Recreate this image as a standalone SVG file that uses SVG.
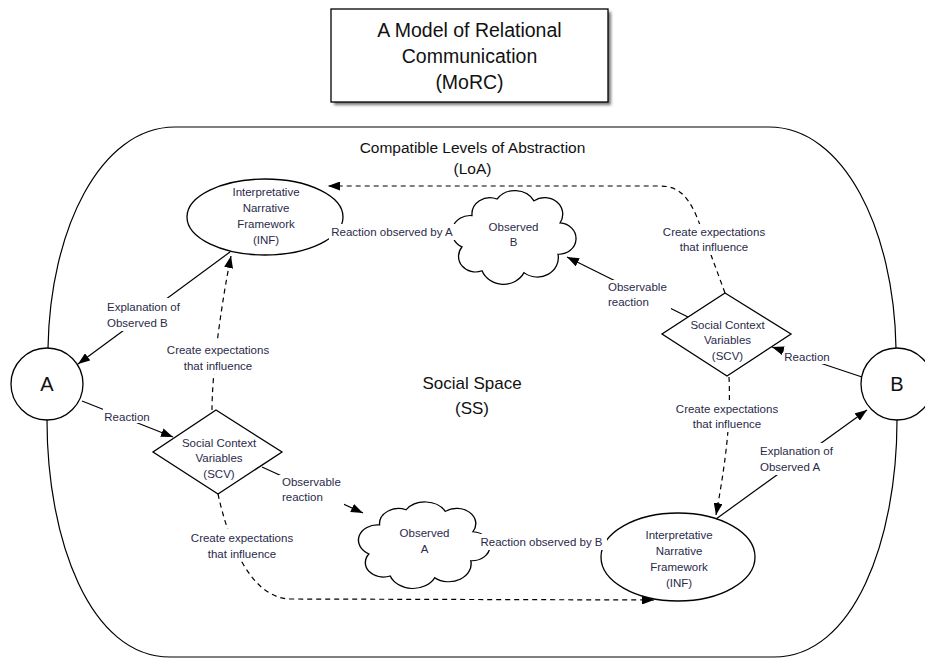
<svg xmlns="http://www.w3.org/2000/svg" width="925" height="660" viewBox="0 0 925 660">
<style>
.ln{stroke:#000;stroke-width:1.2;fill:none}
.dash{stroke-dasharray:5 4}
.node{fill:#fff;stroke:#000;stroke-width:1.3}
.lbl{font-family:"Liberation Sans",Arial,Helvetica,sans-serif;font-size:11.5px;fill:#2a2a4a;text-anchor:middle}
.lbs{font-family:"Liberation Sans",Arial,Helvetica,sans-serif;font-size:11.5px;fill:#2a2a4a;text-anchor:start}
.big{font-family:"Liberation Sans",Arial,Helvetica,sans-serif;fill:#111;text-anchor:middle}
.bg{fill:#fff}
</style>
<defs>
<marker id="ah" viewBox="0 0 12 9" refX="12" refY="4.5" markerWidth="12" markerHeight="9" markerUnits="userSpaceOnUse" orient="auto">
<path d="M0,0 L12,4.5 L0,9 z" fill="#000"/>
</marker>
<filter id="sh" x="-10%" y="-10%" width="130%" height="140%">
<feGaussianBlur stdDeviation="1.5"/>
</filter>
<path id="cloud" d="M -40 -20 A 18 18 0 0 1 -15 -38 A 22 22 0 0 1 22 -36 A 18 18 0 0 1 48 -12 A 17 17 0 0 1 46 22 A 21 21 0 0 1 12 42 A 23 23 0 0 1 -30 40 A 17 17 0 0 1 -50 14 A 18 18 0 0 1 -40 -20 Z"/>
</defs>
<rect width="925" height="660" fill="#fff"/>

<g id="boundary">
<path class="ln" d="M 175 127 L 769 127 C 844 127 894 230 896 348 L 897 420 C 897 540 854 657 774 657 L 170 657 C 90 657 47 540 47 420 L 48 348 C 50 230 100 127 175 127 Z"/>
</g>

<g id="title">
<rect x="334" y="12" width="277" height="93" fill="#777" filter="url(#sh)"/>
<rect x="331" y="9" width="277" height="93" fill="#fff" stroke="#000" stroke-width="1.3"/>
<text class="big" font-size="19.5" x="469.5" y="37">A Model of Relational</text>
<text class="big" font-size="19.5" x="469.5" y="63">Communication</text>
<text class="big" font-size="19.5" x="469.5" y="89">(MoRC)</text>
</g>

<g id="loa">
<text class="big" font-size="15.5" x="472.5" y="152.5">Compatible Levels of Abstraction</text>
<text class="big" font-size="15.5" x="472.5" y="174">(LoA)</text>
</g>

<g id="ss">
<text class="big" font-size="17" x="472" y="389">Social Space</text>
<text class="big" font-size="17" x="472" y="414">(SS)</text>
</g>

<g id="nodeA">
<circle class="node" cx="47" cy="384" r="36"/>
<text class="big" font-size="20" x="47" y="391">A</text>
</g>

<g id="nodeB">
<circle class="node" cx="897" cy="384" r="36"/>
<text class="big" font-size="20" x="897" y="391">B</text>
</g>

<g id="infA">
<ellipse class="node" cx="265" cy="217" rx="78" ry="38"/>
<text class="lbl" x="266" y="196">Interpretative</text>
<text class="lbl" x="266" y="212">Narrative</text>
<text class="lbl" x="266" y="228">Framework</text>
<text class="lbl" x="266" y="244">(INF)</text>
</g>

<g id="infB">
<ellipse class="node" cx="678" cy="557" rx="77" ry="44"/>
<text class="lbl" x="679" y="539">Interpretative</text>
<text class="lbl" x="679" y="555">Narrative</text>
<text class="lbl" x="679" y="571">Framework</text>
<text class="lbl" x="679" y="587">(INF)</text>
</g>

<g id="scvA">
<polygon class="node" points="216,410 282,452 218,494 153,452"/>
<text class="lbl" x="219" y="447">Social Context</text>
<text class="lbl" x="219" y="462">Variables</text>
<text class="lbl" x="219" y="478">(SCV)</text>
</g>

<g id="scvB">
<polygon class="node" points="725,293 791,334 727,376 662,334"/>
<text class="lbl" x="727.5" y="329">Social Context</text>
<text class="lbl" x="727.5" y="344">Variables</text>
<text class="lbl" x="727.5" y="360">(SCV)</text>
</g>

<g id="observedB">
<use href="#cloud" class="node" vector-effect="non-scaling-stroke" transform="translate(512,234) scale(1,0.92)"/>
<text class="lbl" x="513.5" y="231">Observed</text>
<text class="lbl" x="513.5" y="246">B</text>
</g>

<g id="observedA">
<use href="#cloud" class="node" vector-effect="non-scaling-stroke" transform="translate(422,542) scale(1.06,0.85)"/>
<text class="lbl" x="424.5" y="537">Observed</text>
<text class="lbl" x="424.5" y="553">A</text>
</g>

<g id="connectors">
<!-- A -> SCV (Reaction) -->
<path class="ln" d="M 82 401 L 173 437" marker-end="url(#ah)"/>
<rect class="bg" x="103" y="408" width="48" height="15"/>
<text class="lbl" x="127" y="421">Reaction</text>

<!-- INF -> A (Explanation of Observed B) -->
<path class="ln" d="M 230 252 L 78 364" marker-end="url(#ah)"/>
<rect class="bg" x="104" y="298" width="79" height="33"/>
<text class="lbs" x="107" y="311">Explanation of</text>
<text class="lbs" x="107" y="327">Observed B</text>

<!-- SCV A -> INF A (dashed) -->
<path class="ln dash" d="M 212 410 C 212 370 222 300 231 256" marker-end="url(#ah)"/>
<rect class="bg" x="164" y="342" width="108" height="32"/>
<text class="lbl" x="218" y="354">Create expectations</text>
<text class="lbl" x="218" y="370">that influence</text>

<!-- SCV B -> INF A (dashed) -->
<path class="ln dash" d="M 725 293 L 700 225 C 690 198 680 186 660 186 L 328 186" marker-end="url(#ah)"/>
<rect class="bg" x="660" y="224" width="108" height="31"/>
<text class="lbl" x="714" y="236">Create expectations</text>
<text class="lbl" x="714" y="251">that influence</text>

<!-- SCV B -> Observed B -->
<path class="ln" d="M 688 317 L 567 257" marker-end="url(#ah)"/>
<rect class="bg" x="605" y="280" width="66" height="30"/>
<text class="lbs" x="608" y="291">Observable</text>
<text class="lbs" x="608" y="306">reaction</text>

<!-- B -> SCV B (Reaction) -->
<path class="ln" d="M 862 377 L 772 347" marker-end="url(#ah)"/>
<rect class="bg" x="784" y="350" width="47" height="14"/>
<text class="lbl" x="807" y="361">Reaction</text>

<!-- INF B -> B (Explanation of Observed A) -->
<path class="ln" d="M 716 519 L 867 410" marker-end="url(#ah)"/>
<rect class="bg" x="757" y="443" width="81" height="32"/>
<text class="lbs" x="760" y="455">Explanation of</text>
<text class="lbs" x="760" y="471">Observed A</text>

<!-- SCV B -> INF B (dashed) -->
<path class="ln dash" d="M 729 377 C 731 420 726 460 716 515" marker-end="url(#ah)"/>
<rect class="bg" x="672" y="401" width="110" height="31"/>
<text class="lbl" x="727" y="413">Create expectations</text>
<text class="lbl" x="727" y="428">that influence</text>

<!-- SCV A -> Observed A -->
<path class="ln" d="M 262 467 L 363 513" marker-end="url(#ah)"/>
<rect class="bg" x="279" y="475" width="65" height="30"/>
<text class="lbs" x="282" y="486">Observable</text>
<text class="lbs" x="282" y="501">reaction</text>

<!-- SCV A -> INF B (dashed) -->
<path class="ln dash" d="M 218 494 C 228 540 250 598 290 599 L 654 600" marker-end="url(#ah)"/>
<rect class="bg" x="188" y="529" width="109" height="32"/>
<text class="lbl" x="242" y="542">Create expectations</text>
<text class="lbl" x="242" y="558">that influence</text>

<!-- Observed B -> INF A -->
<path class="ln" d="M 456 232 L 338 232"/>
<rect class="bg" x="329" y="224" width="130" height="16"/>
<text class="lbl" x="392" y="236">Reaction observed by A</text>

<!-- Observed A -> INF B -->
<path class="ln" d="M 481 542 L 602 542"/>
<rect class="bg" x="478" y="534" width="129" height="16"/>
<text class="lbl" x="541.5" y="546">Reaction observed by B</text>
</g>
</svg>
